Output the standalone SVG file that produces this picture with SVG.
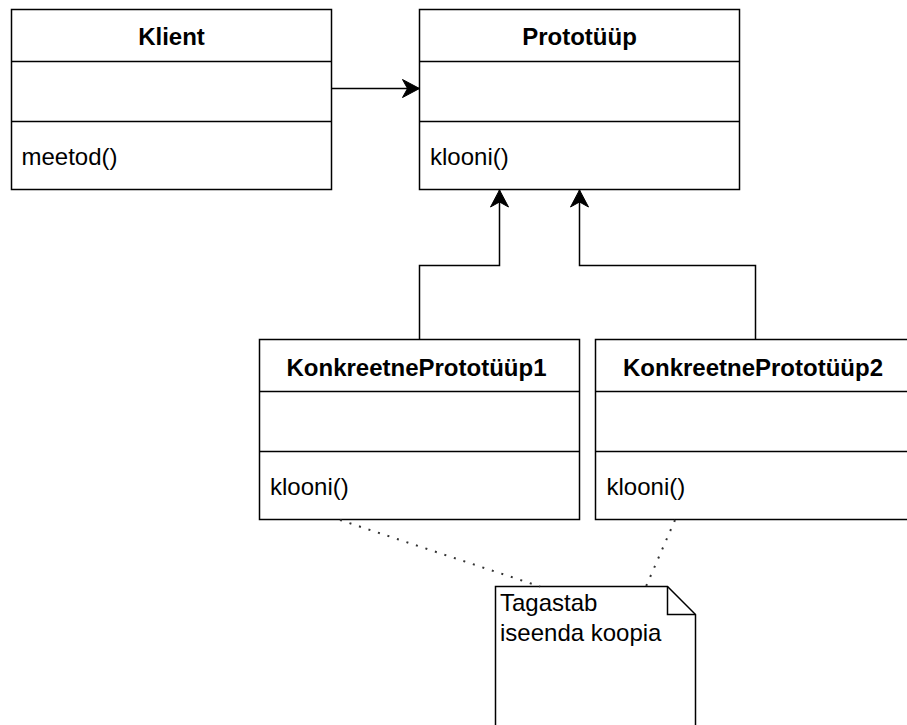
<svg xmlns="http://www.w3.org/2000/svg" width="907" height="725" viewBox="0 0 907 725">
  <style>
    .box { fill: #ffffff; stroke: #000000; stroke-width: 1.5; }
    .sep { stroke: #000000; stroke-width: 1.5; fill: none; }
    .title { font-family: "Liberation Sans", Arial, sans-serif; font-size: 24px; font-weight: bold; text-anchor: middle; fill: #000000; }
    .member { font-family: "Liberation Sans", Arial, sans-serif; font-size: 24px; fill: #000000; }
    .edge { stroke: #000000; stroke-width: 1.5; fill: none; }
    .dot { stroke: #333333; stroke-width: 2; fill: none; stroke-dasharray: 2 8; }
  </style>
  <defs>
    <marker id="arrow" viewBox="0 0 20 20" refX="18" refY="10" markerWidth="20" markerHeight="20" markerUnits="userSpaceOnUse" orient="auto">
      <path d="M18,10 L1,1 L6,10 L1,19 Z" fill="#000000" stroke="#000000" stroke-width="1"/>
    </marker>
  </defs>
  <rect width="907" height="725" fill="#ffffff"/>

  <g id="klient">
    <rect class="box" x="11.5" y="9.5" width="320" height="180"/>
    <line class="sep" x1="11.5" y1="61.5" x2="331.5" y2="61.5"/>
    <line class="sep" x1="11.5" y1="121.5" x2="331.5" y2="121.5"/>
    <text class="title" x="171.5" y="45">Klient</text>
    <text class="member" x="21.5" y="164.5">meetod()</text>
  </g>

  <g id="prototyyp">
    <rect class="box" x="419.5" y="9.5" width="320" height="180"/>
    <line class="sep" x1="419.5" y1="61.5" x2="739.5" y2="61.5"/>
    <line class="sep" x1="419.5" y1="121.5" x2="739.5" y2="121.5"/>
    <text class="title" x="579.5" y="45">Prototüüp</text>
    <text class="member" x="430" y="164.5">klooni()</text>
  </g>

  <g id="konkreetne1">
    <rect class="box" x="259.5" y="339.5" width="320" height="180"/>
    <line class="sep" x1="259.5" y1="391.5" x2="579.5" y2="391.5"/>
    <line class="sep" x1="259.5" y1="451.5" x2="579.5" y2="451.5"/>
    <text class="title" x="416.5" y="375.5">KonkreetnePrototüüp1</text>
    <text class="member" x="270" y="494.5">klooni()</text>
  </g>

  <g id="konkreetne2">
    <rect class="box" x="595.5" y="339.5" width="320" height="180"/>
    <line class="sep" x1="595.5" y1="391.5" x2="915.5" y2="391.5"/>
    <line class="sep" x1="595.5" y1="451.5" x2="915.5" y2="451.5"/>
    <text class="title" x="753" y="375.5">KonkreetnePrototüüp2</text>
    <text class="member" x="606.5" y="494.5">klooni()</text>
  </g>

  <g id="note">
    <path class="box" d="M495.5,586.5 L667.5,586.5 L695.5,614.5 L695.5,760 L495.5,760 Z"/>
    <path class="sep" d="M667.5,586.5 L667.5,614.5 L695.5,614.5"/>
    <text class="member" x="500" y="611">Tagastab</text>
    <text class="member" x="500" y="641">iseenda koopia</text>
  </g>

  <g id="connectors">
    <line class="edge" x1="331.5" y1="88.5" x2="419.5" y2="88.5" marker-end="url(#arrow)"/>
    <polyline class="edge" points="419.5,339.5 419.5,265.5 499.5,265.5 499.5,190" marker-end="url(#arrow)"/>
    <polyline class="edge" points="755.5,339.5 755.5,265.5 579.5,265.5 579.5,190" marker-end="url(#arrow)"/>
    <line class="dot" x1="340" y1="520" x2="540" y2="586.5"/>
    <line class="dot" x1="675" y1="520" x2="646" y2="586.5"/>
  </g>
</svg>
